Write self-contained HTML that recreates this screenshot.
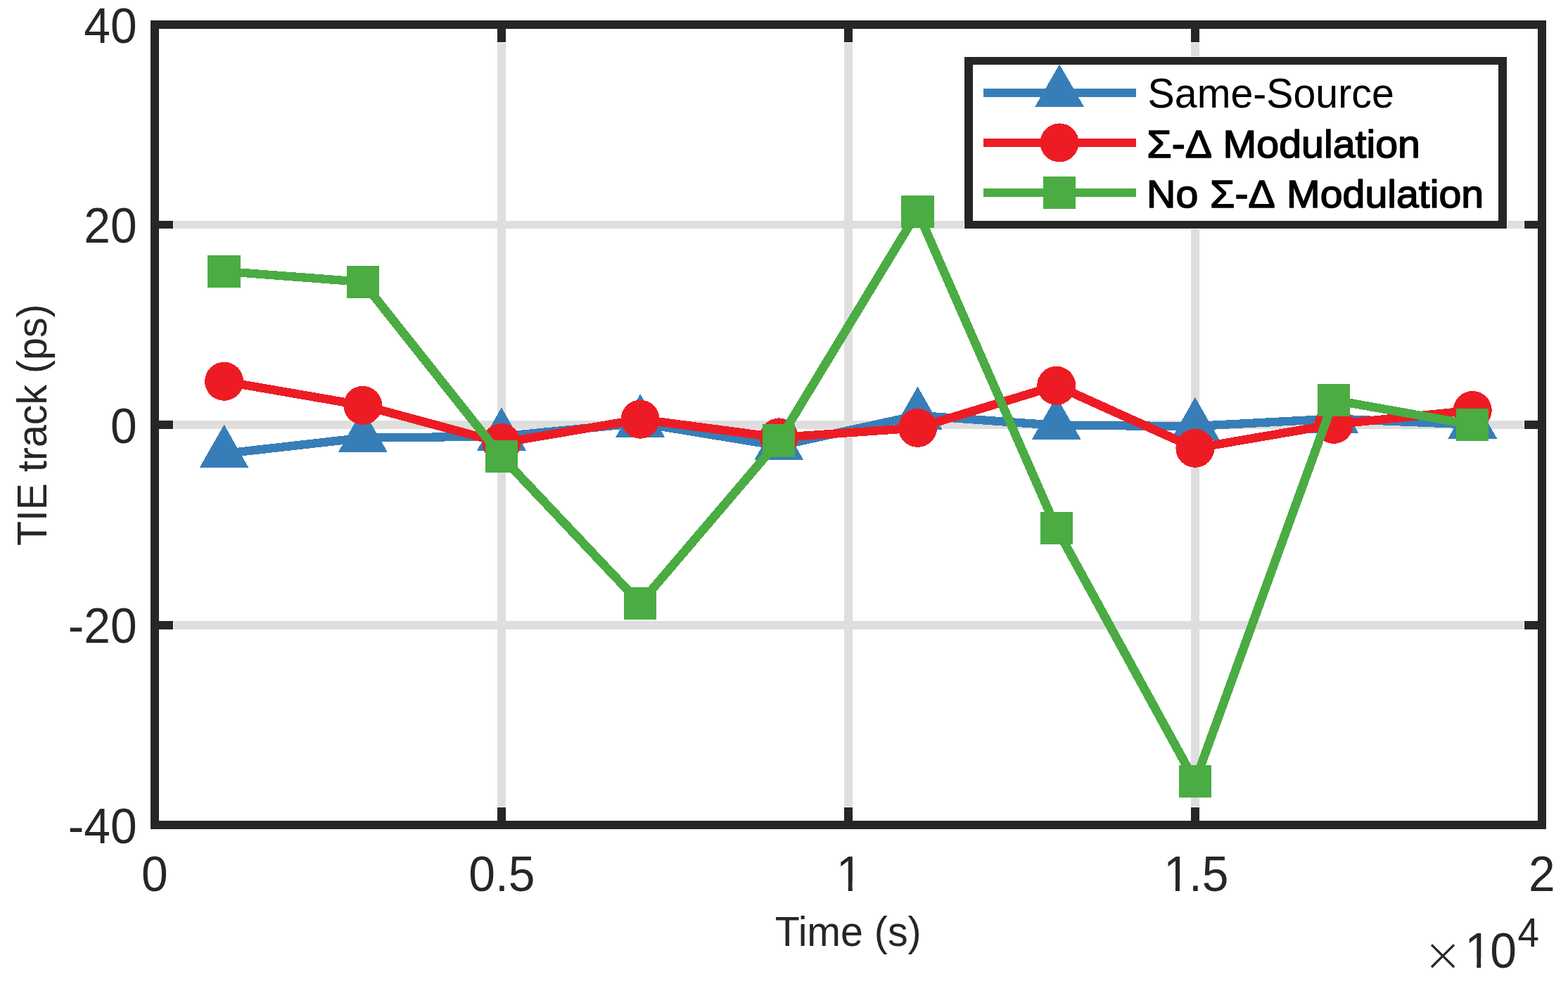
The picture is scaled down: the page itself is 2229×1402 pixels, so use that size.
<!DOCTYPE html>
<html lang="en"><head><meta charset="utf-8"><title>TIE track vs Time</title>
<style>html,body{margin:0;padding:0;background:#fff;}body{width:2229px;height:1402px;overflow:hidden;}svg{display:block;}text{font-family:'Liberation Sans', Arial, Helvetica, sans-serif;white-space:pre;}</style>
</head><body>
<svg width="2229" height="1402" viewBox="0 0 2229 1402">
<rect width="2229" height="1402" fill="#fff"/>
<defs><clipPath id="nofoot" clipPathUnits="userSpaceOnUse"><path clip-rule="evenodd" d="M-20 -90H400V40H-20Z M3.97 -13.24H17.05V3H3.97Z M23.04 -13.24H35.75V3H23.04Z"/></clipPath></defs>
<g fill="#dedede" shape-rendering="crispEdges">
<rect x="707" y="61" width="12" height="1086"/>
<rect x="1200" y="61" width="12" height="1086"/>
<rect x="1693" y="61" width="12" height="1086"/>
<rect x="247" y="314" width="1919" height="11"/>
<rect x="247" y="598" width="1919" height="12"/>
<rect x="247" y="883" width="1919" height="12"/>
</g>
<g shape-rendering="crispEdges">
<g fill="none" stroke="#377eb8" stroke-linecap="round"><line x1="318.55" y1="645" x2="515.74" y2="622.7" stroke-width="12.31"/><line x1="515.74" y1="622.7" x2="712.94" y2="620.5" stroke-width="12.21"/><line x1="712.94" y1="620.5" x2="910.13" y2="601.5" stroke-width="12.29"/><line x1="910.13" y1="601.5" x2="1107.33" y2="633.8" stroke-width="12.35"/><line x1="1107.33" y1="633.8" x2="1304.52" y2="590.8" stroke-width="12.39"/><line x1="1304.52" y1="590.8" x2="1501.72" y2="604.8" stroke-width="12.27"/><line x1="1501.72" y1="604.8" x2="1698.91" y2="606" stroke-width="12.21"/><line x1="1698.91" y1="606" x2="1896.11" y2="595.5" stroke-width="12.25"/><line x1="1896.11" y1="595.5" x2="2093.3" y2="603.6" stroke-width="12.24"/></g>
<g fill="#377eb8"><polygon points="318.55,603.79 353.55,665.21 283.55,665.21"/><polygon points="515.74,581.49 550.74,642.91 480.74,642.91"/><polygon points="712.94,579.29 747.94,640.71 677.94,640.71"/><polygon points="910.13,560.29 945.13,621.71 875.13,621.71"/><polygon points="1107.33,592.59 1142.33,654.01 1072.33,654.01"/><polygon points="1304.52,549.59 1339.52,611.01 1269.52,611.01"/><polygon points="1501.72,563.59 1536.72,625.01 1466.72,625.01"/><polygon points="1698.91,564.79 1733.91,626.21 1663.91,626.21"/><polygon points="1896.11,554.29 1931.11,615.71 1861.11,615.71"/><polygon points="2093.3,562.39 2128.3,623.81 2058.3,623.81"/></g>
</g>
<g shape-rendering="crispEdges">
<g fill="none" stroke="#ed1c24" stroke-linecap="round"><line x1="318.55" y1="542.3" x2="515.74" y2="576.4" stroke-width="12.36"/><line x1="515.74" y1="576.4" x2="712.94" y2="629.6" stroke-width="12.43"/><line x1="712.94" y1="629.6" x2="910.13" y2="596.2" stroke-width="12.35"/><line x1="910.13" y1="596.2" x2="1107.33" y2="622.1" stroke-width="12.32"/><line x1="1107.33" y1="622.1" x2="1304.52" y2="608.4" stroke-width="12.27"/><line x1="1304.52" y1="608.4" x2="1501.72" y2="548.3" stroke-width="12.45"/><line x1="1501.72" y1="548.3" x2="1698.91" y2="637.3" stroke-width="12.52"/><line x1="1698.91" y1="637.3" x2="1896.11" y2="603.4" stroke-width="12.35"/><line x1="1896.11" y1="603.4" x2="2093.3" y2="583.5" stroke-width="12.3"/></g>
<g fill="#ed1c24"><circle cx="318.55" cy="542.3" r="27.5"/><circle cx="515.74" cy="576.4" r="27.5"/><circle cx="712.94" cy="629.6" r="27.5"/><circle cx="910.13" cy="596.2" r="27.5"/><circle cx="1107.33" cy="622.1" r="27.5"/><circle cx="1304.52" cy="608.4" r="27.5"/><circle cx="1501.72" cy="548.3" r="27.5"/><circle cx="1698.91" cy="637.3" r="27.5"/><circle cx="1896.11" cy="603.4" r="27.5"/><circle cx="2093.3" cy="583.5" r="27.5"/></g>
</g>
<g shape-rendering="crispEdges">
<g fill="none" stroke="#4aac43" stroke-linecap="round"><line x1="318.55" y1="385.9" x2="515.74" y2="400.9" stroke-width="12.27"/><line x1="515.74" y1="400.9" x2="712.94" y2="649.3" stroke-width="12.6"/><line x1="712.94" y1="649.3" x2="910.13" y2="857.9" stroke-width="12.61"/><line x1="910.13" y1="857.9" x2="1107.33" y2="626.6" stroke-width="12.61"/><line x1="1107.33" y1="626.6" x2="1304.52" y2="301" stroke-width="12.57"/><line x1="1304.52" y1="301" x2="1501.72" y2="751" stroke-width="12.52"/><line x1="1501.72" y1="751" x2="1698.91" y2="1111" stroke-width="12.56"/><line x1="1698.91" y1="1111" x2="1896.11" y2="568.9" stroke-width="12.48"/><line x1="1896.11" y1="568.9" x2="2093.3" y2="604" stroke-width="12.36"/></g>
<g fill="#4aac43"><rect x="295.4" y="362.75" width="46.3" height="46.3"/><rect x="492.59" y="377.75" width="46.3" height="46.3"/><rect x="689.79" y="626.15" width="46.3" height="46.3"/><rect x="886.98" y="834.75" width="46.3" height="46.3"/><rect x="1084.18" y="603.45" width="46.3" height="46.3"/><rect x="1281.37" y="277.85" width="46.3" height="46.3"/><rect x="1478.57" y="727.85" width="46.3" height="46.3"/><rect x="1675.76" y="1087.85" width="46.3" height="46.3"/><rect x="1872.96" y="545.75" width="46.3" height="46.3"/><rect x="2070.15" y="580.85" width="46.3" height="46.3"/></g>
</g>
<g fill="#262626" shape-rendering="crispEdges">
<rect x="707" y="41" width="12" height="19"/>
<rect x="707" y="1148" width="12" height="19"/>
<rect x="1200" y="41" width="12" height="19"/>
<rect x="1200" y="1148" width="12" height="19"/>
<rect x="1693" y="41" width="12" height="19"/>
<rect x="1693" y="1148" width="12" height="19"/>
<rect x="226" y="314" width="20" height="11"/>
<rect x="2167" y="314" width="19" height="11"/>
<rect x="226" y="598" width="20" height="12"/>
<rect x="2167" y="598" width="19" height="12"/>
<rect x="226" y="883" width="20" height="12"/>
<rect x="2167" y="883" width="19" height="12"/>
<path fill-rule="evenodd" d="M214 29H2198V1179H214Z M226 41V1167H2186V41Z"/>
</g>
<g shape-rendering="crispEdges"><rect x="1370" y="80" width="773" height="246" fill="#fff"/><path fill="#262626" fill-rule="evenodd" d="M1371 81H2142V325H1371Z M1383 92V314H2130V92Z"/></g>
<g shape-rendering="crispEdges"><line x1="1398" y1="131.9" x2="1615" y2="131.9" stroke="#377eb8" stroke-width="12"/><g fill="#377eb8"><polygon points="1506.1,91.49 1541.1,152.11 1471.1,152.11"/></g></g>
<g shape-rendering="crispEdges"><line x1="1398" y1="202.9" x2="1615" y2="202.9" stroke="#ed1c24" stroke-width="12"/><g fill="#ed1c24"><circle cx="1506.1" cy="202.9" r="27.5"/></g></g>
<g shape-rendering="crispEdges"><line x1="1398" y1="274" x2="1615" y2="274" stroke="#4aac43" stroke-width="12"/><g fill="#4aac43"><rect x="1482.95" y="250.85" width="46.3" height="46.3"/></g></g>
<text transform="translate(1631.6 153) scale(1 1.04)" font-size="57.3" text-anchor="start" fill="#000">Same-Source</text>
<text transform="translate(1630.3 224) scale(1 0.98)" font-size="57.3" text-anchor="start" fill="#000" stroke="#000" stroke-width="1.6" stroke-linejoin="round">&#931;-&#916; <tspan x="108.3">Modulation</tspan></text>
<text transform="translate(1630.1 295.4) scale(1 0.98)" font-size="57.3" text-anchor="start" fill="#000" stroke="#000" stroke-width="1.6" stroke-linejoin="round">No <tspan x="89.87">&#931;-&#916;</tspan> <tspan x="198.86">Modulation</tspan></text>
<text transform="translate(194.7 60.9) scale(1 1.04)" font-size="67.8" text-anchor="end" fill="#262626">40</text>
<text transform="translate(194.7 345.42) scale(1 1.04)" font-size="67.8" text-anchor="end" fill="#262626">20</text>
<text transform="translate(194.7 629.95) scale(1 1.04)" font-size="67.8" text-anchor="end" fill="#262626">0</text>
<text transform="translate(194.7 914.47) scale(1 1.04)" font-size="67.8" text-anchor="end" fill="#262626">-20</text>
<text transform="translate(194.7 1199) scale(1 1.04)" font-size="67.8" text-anchor="end" fill="#262626">-40</text>
<text transform="translate(201.1 1267) scale(1 1.04)" font-size="67.8" text-anchor="start" fill="#262626">0</text>
<text transform="translate(666.31 1267) scale(1 1.04)" font-size="67.8" text-anchor="start" fill="#262626">0.5</text>
<text transform="translate(1188.67 1267) scale(1 1.04)" font-size="67.8" text-anchor="start" fill="#262626" clip-path="url(#nofoot)">1</text>
<text transform="translate(1653.89 1267) scale(1 1.04)" font-size="67.8" text-anchor="start" fill="#262626" clip-path="url(#nofoot)">1<tspan dx="-1.6">.5</tspan></text>
<text transform="translate(2173.05 1267) scale(1 1.04)" font-size="67.8" text-anchor="start" fill="#262626">2</text>
<text transform="translate(1205.7 1345) scale(1 1.04)" font-size="57.3" text-anchor="middle" fill="#262626">Time (s)</text>
<text transform="translate(65.9 604.2) rotate(-90) scale(1 1.04)" font-size="57.3" text-anchor="middle" fill="#262626">TIE track (ps)</text>
<text transform="translate(2023.2 1379.8)" font-size="66.4" font-weight="200" fill="#262626" style="font-family:'DejaVu Sans Light','DejaVu Sans','Liberation Sans',sans-serif">&#215;</text>
<text transform="translate(2082.2 1376.1) scale(1 1.04)" font-size="67.8" text-anchor="start" fill="#262626" clip-path="url(#nofoot)">1<tspan dx="-1.6">0</tspan></text>
<text transform="translate(2157.5 1345.9) scale(1 1.04)" font-size="54.6" text-anchor="start" fill="#262626">4</text>
</svg>
</body></html>
